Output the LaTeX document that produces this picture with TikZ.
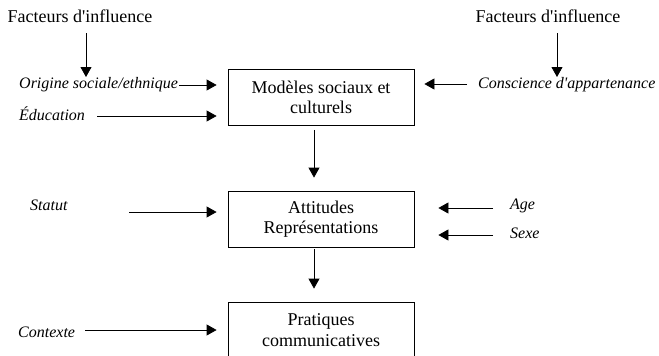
\documentclass[tikz,border=0pt]{standalone}
\usepackage{fontspec}
\setmainfont{Liberation Serif}[Ligatures=TeXOff]
\usetikzlibrary{arrows.meta}
\begin{document}
\begin{tikzpicture}[x=1pt,y=-1pt,
  rom/.style={font=\fontsize{18}{21}\selectfont, inner sep=0pt},
  ita/.style={font=\fontsize{16}{19}\selectfont\itshape, inner sep=0pt, anchor=west},
  boxn/.style={draw, line width=0.8pt, minimum width=186pt, minimum height=56pt, align=center, inner sep=0pt, font=\fontsize{18}{20.5}\selectfont},
  arr/.style={line width=0.8pt, -{Triangle[length=10pt,width=11pt]}}]
\useasboundingbox (0,0) rectangle (659,356);
\clip (0,0) rectangle (659,356);
% titles
\node[rom] (fl) at (80,16) {Facteurs d'influence};
\node[rom] (fr) at (548,16) {Facteurs d'influence};
% boxes
\node[boxn] (b1) at (321,97.5) {Modèles sociaux et\\culturels};
\node[boxn] (b2) at (321,219) {Attitudes\\Représentations};
\node[boxn] (b3) at (321,330) {Pratiques\\communicatives};
% factor labels
\node[ita] (orig) at (19,85) {Origine sociale/ethnique};
\node[ita] (educ) at (19,114) {Éducation};
\node[ita] (consc) at (478,85) {Conscience d'appartenance};
\node[ita] (statut) at (30,205) {Statut};
\node[ita] (age) at (510,206) {Age};
\node[ita] (sexe) at (510,233) {Sexe};
\node[ita] (ctx) at (18,332) {Contexte};
% arrow ends
\coordinate (flt) at (86,33);
\coordinate (flh) at (86,77);
\coordinate (frt) at (557,33);
\coordinate (frh) at (557,77);
\coordinate (origt) at (179,85);
\coordinate (educt) at (97,116);
\coordinate (consct) at (467,84);
\coordinate (statutt) at (129,212);
\coordinate (aget) at (493,208);
\coordinate (sexet) at (493,235);
\coordinate (ctxt) at (85,330);
% arrows
\draw[arr] (flt) -- (flh);
\draw[arr] (frt) -- (frh);
\draw[arr, shorten >=11pt] (origt) -- (b1.west |- origt);
\draw[arr, shorten >=11pt] (educt) -- (b1.west |- educt);
\draw[arr, shorten >=10pt] (consct) -- (b1.east |- consct);
\draw[arr, shorten >=11pt] (statutt) -- (b2.west |- statutt);
\draw[arr, shorten >=24pt] (aget) -- (b2.east |- aget);
\draw[arr, shorten >=24pt] (sexet) -- (b2.east |- sexet);
\draw[arr, shorten >=11pt] (ctxt) -- (b3.west |- ctxt);
\draw[arr, shorten <=4pt, shorten >=13pt] ([xshift=-7pt]b1.south) -- ([xshift=-7pt]b2.north);
\draw[arr, shorten <=2pt, shorten >=13pt] ([xshift=-7pt]b2.south) -- ([xshift=-7pt]b3.north);
\end{tikzpicture}
\end{document}
